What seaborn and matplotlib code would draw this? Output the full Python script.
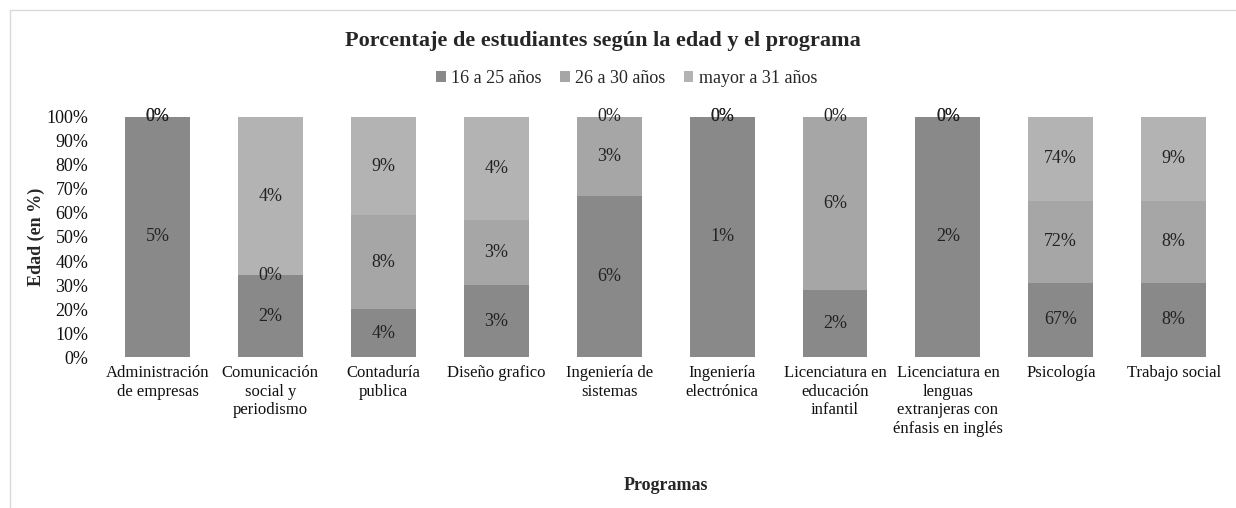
import numpy as np
import pandas as pd
import matplotlib
matplotlib.use("Agg")
import matplotlib.pyplot as plt
from matplotlib.patches import Patch, Rectangle
import seaborn as sns

# ---------------- data ----------------
programas = [
    "Administración\nde empresas",
    "Comunicación\nsocial y\nperiodismo",
    "Contaduría\npublica",
    "Diseño grafico",
    "Ingeniería de\nsistemas",
    "Ingeniería\nelectrónica",
    "Licenciatura en\neducación\ninfantil",
    "Licenciatura en\nlenguas\nextranjeras con\nénfasis en inglés",
    "Psicología",
    "Trabajo social",
]
series = ["16 a 25 años", "26 a 30 años", "mayor a 31 años"]

# segment share of each bar (%)
edad_16_25 = [100, 34, 20, 30, 67, 100, 28, 100, 31, 31]
edad_26_30 = [0, 0, 39, 27, 33, 0, 72, 0, 34, 34]
edad_31_mas = [0, 66, 41, 43, 0, 0, 0, 0, 35, 35]

# data labels printed on the segments
etiq_16_25 = ["5%", "2%", "4%", "3%", "6%", "1%", "2%", "2%", "67%", "8%"]
etiq_26_30 = ["0%", "0%", "8%", "3%", "3%", "0%", "6%", "0%", "72%", "8%"]
etiq_31_mas = ["0%", "4%", "9%", "4%", "0%", "0%", "0%", "0%", "74%", "9%"]

colores = ["#898989", "#a6a6a6", "#b3b3b3"]

# ---------------- plot ----------------
sns.set_theme(style="white")
plt.rcParams["font.family"] = ["Liberation Serif", "DejaVu Serif"]

df = pd.DataFrame({
    "programa": programas,
    "a": edad_16_25,
    "b": edad_26_30,
    "c": edad_31_mas,
})
df["ab"] = df["a"] + df["b"]
df["abc"] = df["ab"] + df["c"]

fig = plt.figure(figsize=(12.36, 5.08), dpi=100)
ax = fig.add_axes([0.0817, 0.297, 0.9136, 0.473])

# stacked bars: draw cumulative totals from the top down
for col, color in zip(["abc", "ab", "a"], colores[::-1]):
    sns.barplot(data=df, x="programa", y=col, order=programas, color=color,
                width=0.575, saturation=1, linewidth=0, ax=ax)

# data labels centred in each segment
bottoms = np.zeros(len(programas))
for vals, etiqs in zip([edad_16_25, edad_26_30, edad_31_mas],
                       [etiq_16_25, etiq_26_30, etiq_31_mas]):
    vals = np.array(vals, dtype=float)
    for i, (v, t) in enumerate(zip(vals, etiqs)):
        ax.text(i, bottoms[i] + v / 2, t, ha="center", va="center",
                fontsize=13, color="#222222")
    bottoms += vals

ax.set_xlim(-0.5, len(programas) - 0.5)
ax.set_ylim(0, 100)
ax.set_yticks(np.arange(0, 101, 10))
ax.set_yticklabels([f"{v}%" for v in range(0, 101, 10)])
ax.tick_params(axis="y", length=0, pad=9, labelsize=13, labelcolor="#111111")
ax.tick_params(axis="x", length=0, pad=6, labelsize=12, labelcolor="#111111")
plt.setp(ax.get_xticklabels(), linespacing=1.2)
for s in ax.spines.values():
    s.set_visible(False)

ax.set_xlabel("Programas", fontsize=13, fontweight="bold", labelpad=29)
ax.set_ylabel("Edad (en %)", fontsize=13, fontweight="bold", labelpad=1)

fig.text(0.488, 0.919, "Porcentaje de estudiantes según la edad y el programa",
         ha="center", va="center", fontsize=16, fontweight="bold")

handles = [Patch(facecolor=c, edgecolor="none", label=s) for c, s in zip(colores, series)]
fig.legend(handles=handles, loc="center", bbox_to_anchor=(0.507, 0.846), ncol=3,
           frameon=False, fontsize=13, handlelength=0.55, handleheight=0.55,
           handletextpad=0.3, columnspacing=1.0)

# light chart frame
fig.add_artist(Rectangle((10 / 1236, -0.1), 1.2, 1.08, transform=fig.transFigure,
                         fill=False, edgecolor="#d9d9d9", linewidth=1))

fig.savefig("out.png", dpi=100)
